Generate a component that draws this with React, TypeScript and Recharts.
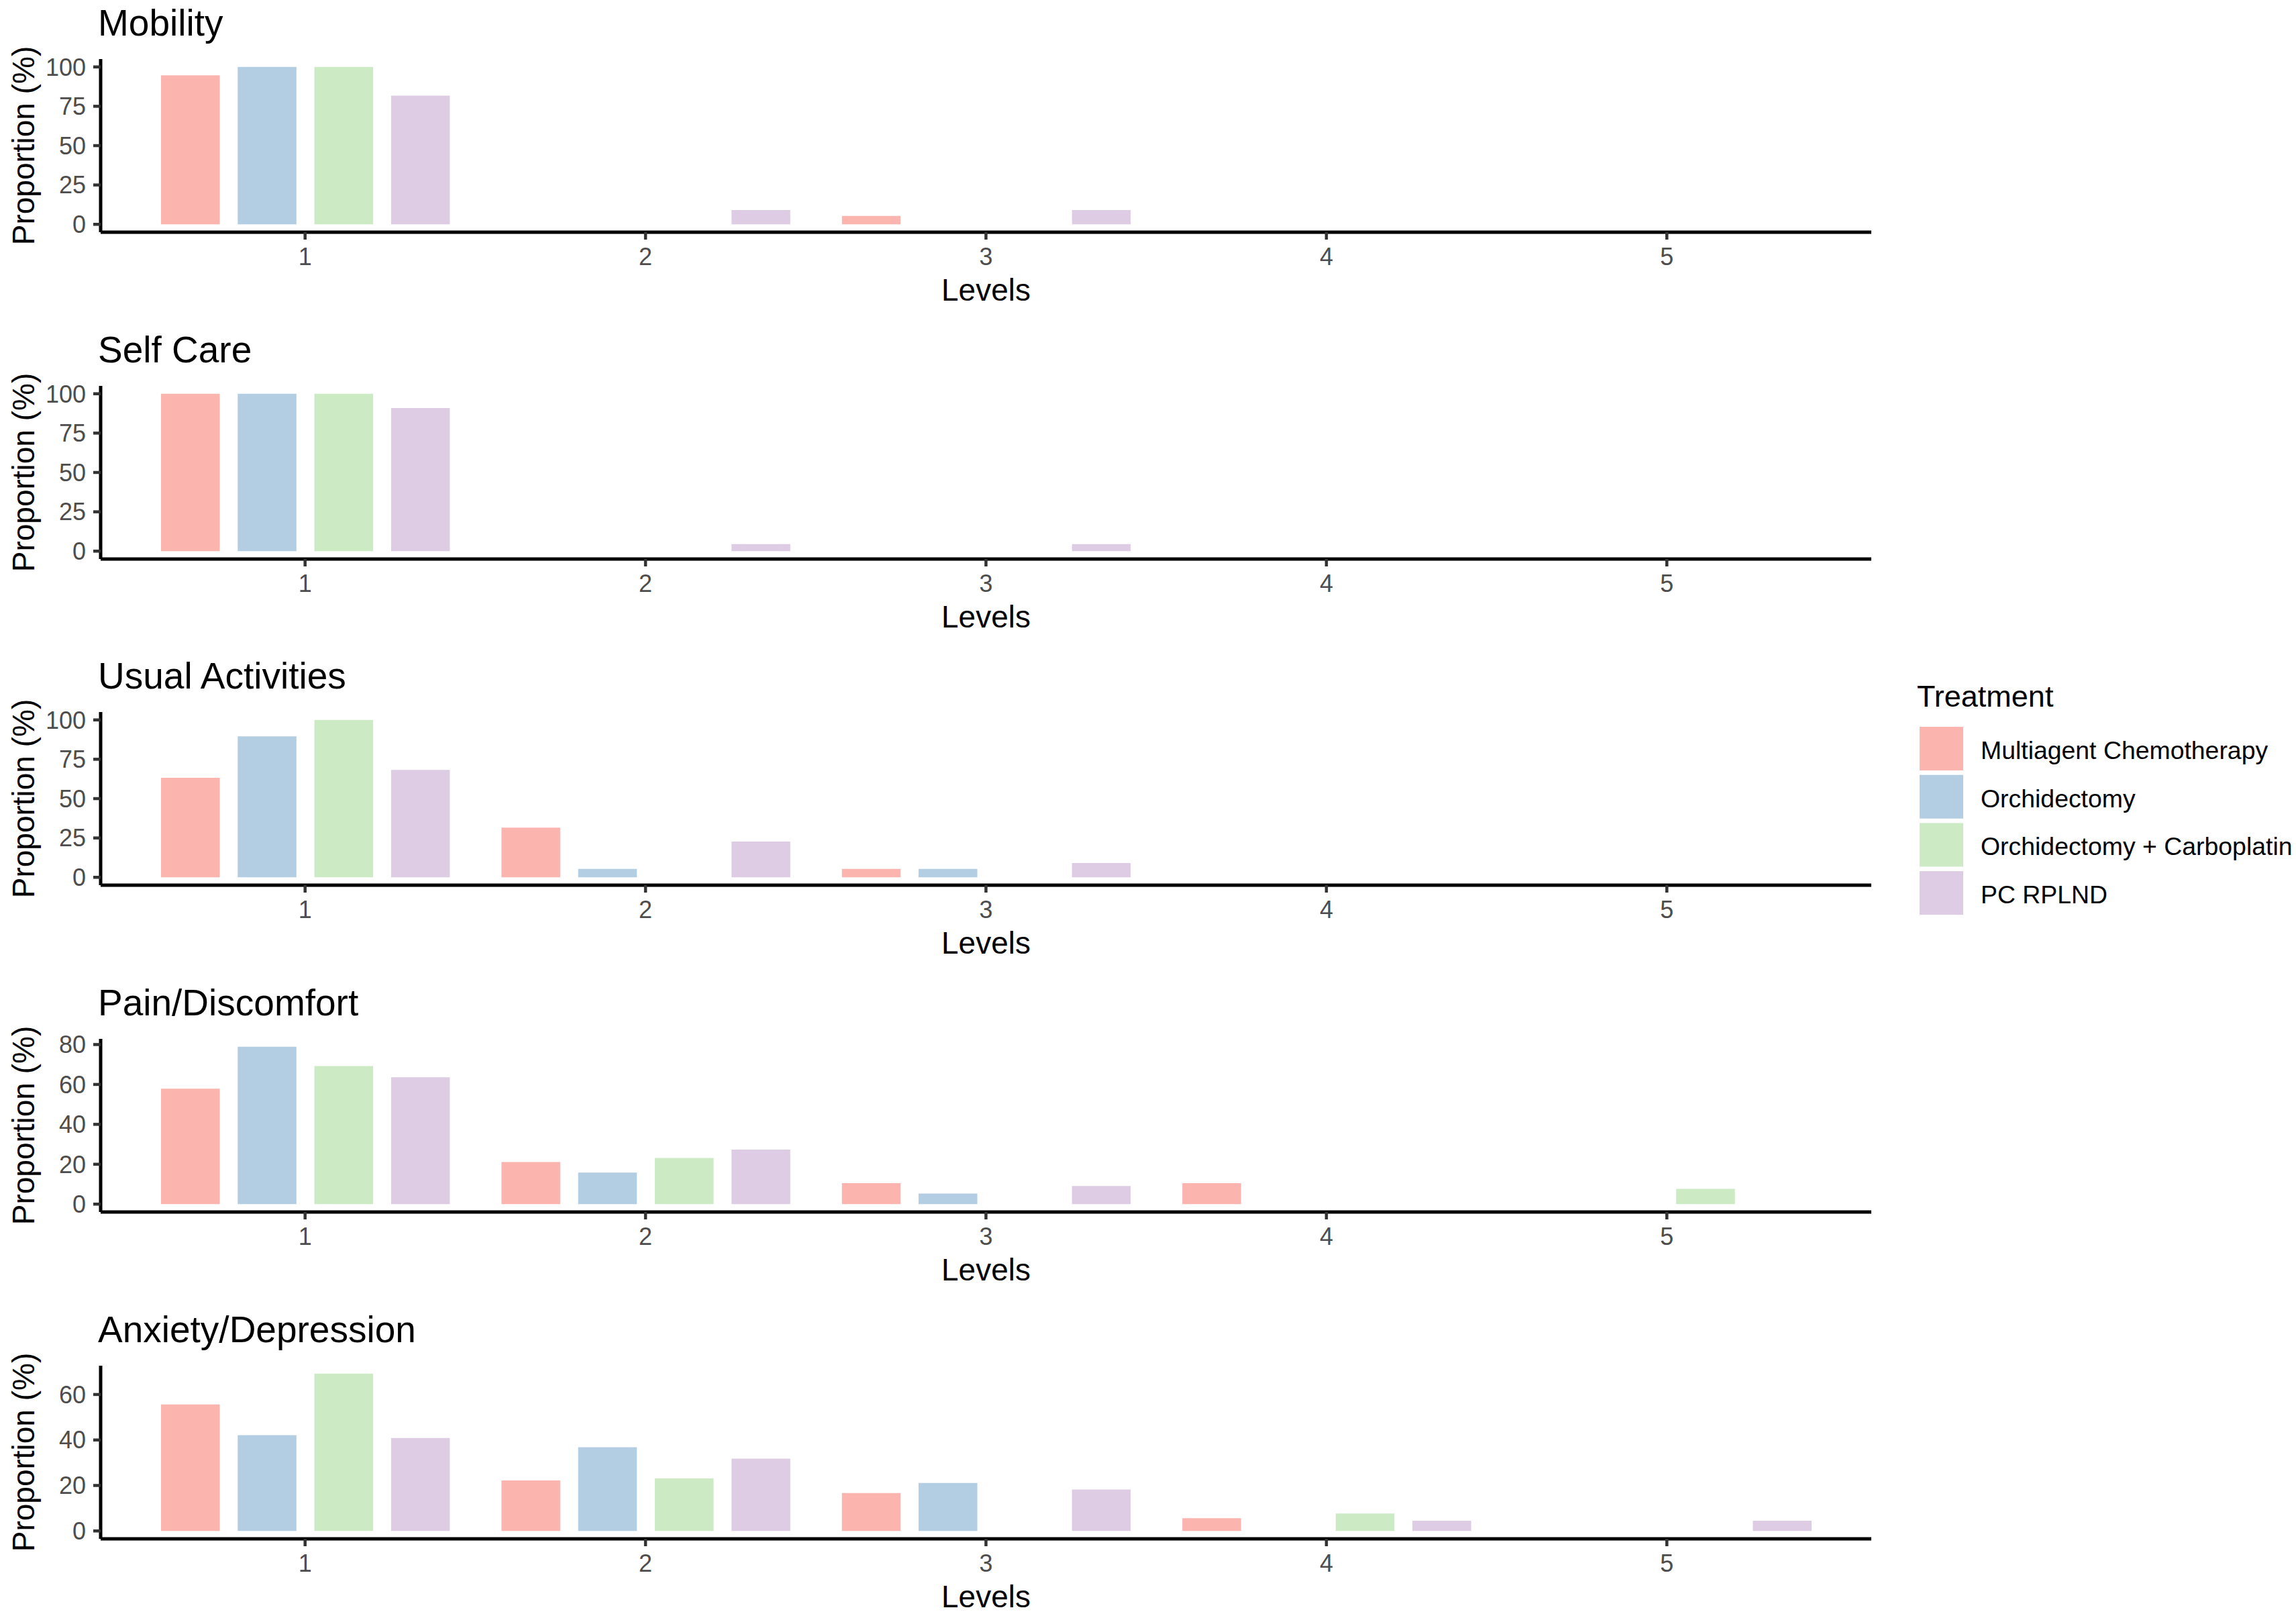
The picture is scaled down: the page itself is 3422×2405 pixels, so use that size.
import { Bar, BarChart, XAxis, YAxis } from "recharts";

const FONT = "'Liberation Sans', Arial, Helvetica, sans-serif";

const levels = ["1", "2", "3", "4", "5"];
const treatments = [
  "Multiagent Chemotherapy",
  "Orchidectomy",
  "Orchidectomy + Carboplatin",
  "PC RPLND",
];
const treatmentKeys = ["chemo", "orch", "orchCarbo", "rplnd"];
const fills = ["#FBB4AE", "#B3CDE3", "#CCEBC5", "#DECBE4"];

const dimensions = [
  "Mobility",
  "Self Care",
  "Usual Activities",
  "Pain/Discomfort",
  "Anxiety/Depression",
];

// proportion (%) of each treatment group at levels 1..5
const mobility = [
  [94.7, 0, 5.3, 0, 0],
  [100, 0, 0, 0, 0],
  [100, 0, 0, 0, 0],
  [81.8, 9.1, 9.1, 0, 0],
];
const selfCare = [
  [100, 0, 0, 0, 0],
  [100, 0, 0, 0, 0],
  [100, 0, 0, 0, 0],
  [90.9, 4.5, 4.5, 0, 0],
];
const usualActivities = [
  [63.2, 31.6, 5.3, 0, 0],
  [89.5, 5.3, 5.3, 0, 0],
  [100, 0, 0, 0, 0],
  [68.2, 22.7, 9.1, 0, 0],
];
const painDiscomfort = [
  [57.9, 21.1, 10.5, 10.5, 0],
  [78.9, 15.8, 5.3, 0, 0],
  [69.2, 23.1, 0, 0, 7.7],
  [63.6, 27.3, 9.1, 0, 0],
];
const anxietyDepression = [
  [55.6, 22.2, 16.7, 5.6, 0],
  [42.1, 36.8, 21.1, 0, 0],
  [69.2, 23.1, 0, 7.7, 0],
  [40.9, 31.8, 18.2, 4.5, 4.5],
];

const panelValues = [mobility, selfCare, usualActivities, painDiscomfort, anxietyDepression];

const yTicks = [
  [0, 25, 50, 75, 100],
  [0, 25, 50, 75, 100],
  [0, 25, 50, 75, 100],
  [0, 20, 40, 60, 80],
  [0, 20, 40, 60],
];

const PANEL_STEP = 486.7;
const CHART_W = 2800;
const CHART_H = 487;

function buildRows(values: number[][]) {
  return levels.map((level, i) => {
    const row: Record<string, string | number> = { level };
    treatmentKeys.forEach((k, t) => {
      row[k] = values[t][i];
    });
    return row;
  });
}

function Panel({ index }: { index: number }) {
  const values = panelValues[index];
  const rows = buildRows(values);
  const max = Math.max(...values.flat());
  // ggplot-style 5% expansion on both ends
  const domain = [-max * 0.05, max * 1.05];

  return (
    <div style={{ position: "absolute", left: 0, top: index * PANEL_STEP }}>
      <BarChart
        width={CHART_W}
        height={CHART_H}
        data={rows}
        margin={{ top: 88, right: 11, bottom: 31, left: 0 }}
        barGap={26.8}
      >
        <XAxis
          dataKey="level"
          height={110}
          padding={{ left: 51, right: 51 }}
          interval={0}
          tickSize={11}
          tickMargin={12}
          axisLine={{ stroke: "#000", strokeWidth: 5 }}
          tickLine={{ stroke: "#333", strokeWidth: 4.5 }}
          tick={{ fill: "#4D4D4D", fontSize: 36, fontFamily: FONT }}
          label={{
            value: "Levels",
            position: "insideBottom",
            offset: 8,
            fill: "#000",
            fontSize: 46,
            fontFamily: FONT,
          }}
        />
        <YAxis
          type="number"
          width={150}
          domain={domain}
          ticks={yTicks[index]}
          interval={0}
          allowDataOverflow
          tickSize={11}
          tickMargin={11}
          axisLine={{ stroke: "#000", strokeWidth: 5 }}
          tickLine={{ stroke: "#333", strokeWidth: 4.5 }}
          tick={{ fill: "#4D4D4D", fontSize: 36, fontFamily: FONT }}
          label={{
            value: "Proportion (%)",
            angle: -90,
            position: "insideLeft",
            offset: 35,
            fill: "#000",
            fontSize: 46,
            fontFamily: FONT,
            style: { textAnchor: "middle" },
          }}
        />
        {treatmentKeys.map((k, t) => (
          <Bar
            key={k}
            dataKey={k}
            name={treatments[t]}
            fill={fills[t]}
            barSize={87.5}
            isAnimationActive={false}
          />
        ))}
      </BarChart>
    </div>
  );
}

export default function App() {
  return (
    <div
      style={{
        position: "absolute",
        left: 0,
        top: 0,
        width: 3422,
        height: 2405,
        overflow: "hidden",
        background: "#fff",
        fontFamily: FONT,
      }}
    >
      {dimensions.map((_, i) => (
        <Panel key={i} index={i} />
      ))}
      <svg
        width={3422}
        height={2405}
        style={{ position: "absolute", left: 0, top: 0, pointerEvents: "none" }}
      >
        {dimensions.map((name, i) => (
          <text key={name} x={146} y={i * PANEL_STEP + 53} fontSize={55} fontFamily={FONT} fill="#000">
            {name}
          </text>
        ))}
        <text x={2857} y={1053} fontSize={45} fontFamily={FONT} fill="#000">
          Treatment
        </text>
        {treatments.map((name, t) => {
          const y = 1083 + t * 71.7;
          return (
            <g key={name}>
              <rect x={2861} y={y} width={65} height={65} fill={fills[t]} />
              <text x={2952} y={y + 32.5 + 15.5} fontSize={37.4} fontFamily={FONT} fill="#000">
                {name}
              </text>
            </g>
          );
        })}
      </svg>
    </div>
  );
}
